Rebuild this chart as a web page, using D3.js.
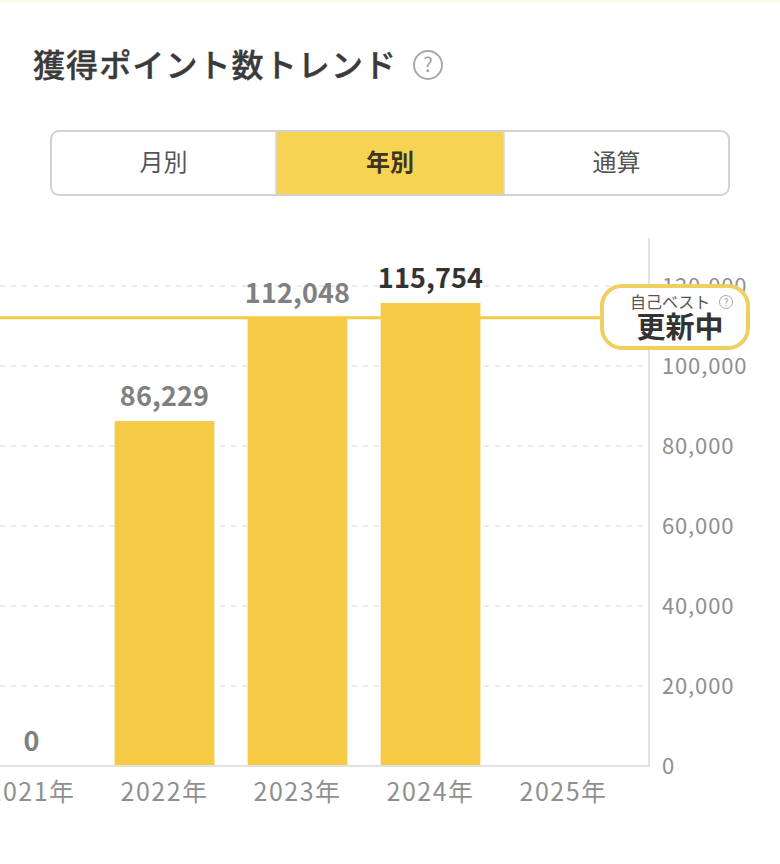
<!DOCTYPE html>
<html lang="ja">
<head>
<meta charset="utf-8">
<script src="https://cdn.jsdelivr.net/npm/d3@7"></script>
<style>
html, body { margin: 0; padding: 0; background: #fff; }
svg { display: block; }
text { font-family: "Noto Sans CJK JP", "Noto Sans", sans-serif; }
</style>
</head>
<body>
<div id="chart"></div>
<script>
// chart data
var years = ['2021年', '2022年', '2023年', '2024年', '2025年'];
var points = [0, 86229, 112048, 115754, null];
var bestYear = '2024年';
var personalBest = 112048;
var yTicks = [0, 20000, 40000, 60000, 80000, 100000, 120000];
var tabs = ['月別', '年別', '通算'];
var activeTab = '年別';
var tabEdges = [51, 276, 504, 729];

var width = 780, height = 864;
var yellow = '#f5cb45';

var svg = d3.select('#chart').append('svg')
    .attr('width', width)
    .attr('height', height);

// faint strip along the top edge
svg.append('rect').attr('width', width).attr('height', 2).attr('fill', '#fbf6e6');

// title
svg.append('text')
    .attr('x', 33).attr('y', 77)
    .attr('font-size', 32).attr('font-weight', 500)
    .attr('letter-spacing', 1.1)
    .attr('stroke', '#3a3a3a').attr('stroke-width', 0.4)
    .attr('fill', '#3a3a3a')
    .text('獲得ポイント数トレンド');
helpIcon(428, 65, 14, 2, 20);

// tab switch
var tabTop = 131, tabBottom = 195;
svg.append('clipPath').attr('id', 'tabClip').append('rect')
    .attr('x', tabEdges[0]).attr('y', tabTop)
    .attr('width', tabEdges[3] - tabEdges[0]).attr('height', tabBottom - tabTop)
    .attr('rx', 8);
var tabG = svg.append('g');
tabG.append('g').attr('clip-path', 'url(#tabClip)')
    .selectAll('rect').data(tabs).enter().append('rect')
    .attr('x', function(d, i) { return tabEdges[i]; })
    .attr('y', tabTop)
    .attr('width', function(d, i) { return tabEdges[i + 1] - tabEdges[i]; })
    .attr('height', tabBottom - tabTop)
    .attr('fill', function(d) { return d === activeTab ? '#f7d354' : '#fff'; });
tabG.selectAll('line').data(tabEdges.slice(1, 3)).enter().append('line')
    .attr('x1', function(d) { return d; }).attr('x2', function(d) { return d; })
    .attr('y1', tabTop).attr('y2', tabBottom)
    .attr('stroke', '#d8d8d8').attr('stroke-width', 1.5);
tabG.append('rect')
    .attr('x', tabEdges[0]).attr('y', tabTop)
    .attr('width', tabEdges[3] - tabEdges[0]).attr('height', tabBottom - tabTop)
    .attr('rx', 8)
    .attr('fill', 'none').attr('stroke', '#d2d2d2').attr('stroke-width', 2);
tabG.selectAll('text').data(tabs).enter().append('text')
    .attr('x', function(d, i) { return (tabEdges[i] + tabEdges[i + 1]) / 2; })
    .attr('y', 171)
    .attr('text-anchor', 'middle')
    .attr('font-size', 24)
    .attr('font-weight', function(d) { return d === activeTab ? 700 : 400; })
    .attr('fill', function(d) { return d === activeTab ? '#3d3520' : '#555'; })
    .text(function(d) { return d; });

// scales
var x = d3.scaleBand()
    .domain(years)
    .range([-35, 630])
    .paddingInner(0.25)
    .paddingOuter(0.125);

var y = d3.scaleLinear()
    .domain([0, 120000])
    .range([766, 286]);

var axisX = 649;

// grid
svg.append('g')
    .selectAll('line')
    .data(yTicks.filter(function(d) { return d > 0; }))
    .enter().append('line')
    .attr('x1', 0).attr('x2', axisX)
    .attr('y1', function(d) { return y(d); })
    .attr('y2', function(d) { return y(d); })
    .attr('stroke', '#e4e4e4')
    .attr('stroke-width', 1.5)
    .attr('stroke-dasharray', '5,6');

// y axis
svg.append('line')
    .attr('x1', axisX).attr('x2', axisX)
    .attr('y1', 238).attr('y2', 767)
    .attr('stroke', '#e2e2e2').attr('stroke-width', 2);

var yAxis = svg.append('g')
    .attr('class', 'y axis')
    .attr('transform', 'translate(' + (axisX + 13) + ',0)')
    .call(d3.axisRight(y).tickValues(yTicks).tickSize(0).tickPadding(0).tickFormat(d3.format(',')));
yAxis.select('.domain').remove();
yAxis.selectAll('text')
    .attr('font-size', 22)
    .attr('letter-spacing', 0.85)
    .attr('fill', '#8f8f8f')
    .style('font-family', '"Noto Sans CJK JP", sans-serif');

// bars
svg.append('g')
    .selectAll('rect')
    .data(years.filter(function(d, i) { return points[i]; }))
    .enter().append('rect')
    .attr('x', function(d) { return x(d); })
    .attr('width', x.bandwidth())
    .attr('y', function(d) { return y(points[years.indexOf(d)]); })
    .attr('height', function(d) { return y(0) - y(points[years.indexOf(d)]); })
    .attr('fill', yellow);

// x axis
svg.append('line')
    .attr('x1', 0).attr('x2', axisX)
    .attr('y1', y(0)).attr('y2', y(0))
    .attr('stroke', '#e2e2e2').attr('stroke-width', 2);

var xAxis = svg.append('g')
    .attr('class', 'x axis')
    .attr('transform', 'translate(0,' + y(0) + ')')
    .call(d3.axisBottom(x).tickSize(0).tickPadding(17));
xAxis.select('.domain').remove();
xAxis.selectAll('text')
    .attr('font-size', 25)
    .attr('letter-spacing', 1.5)
    .attr('fill', '#8f8f8f')
    .style('font-family', '"Noto Sans CJK JP", sans-serif');

// personal best line
svg.append('line')
    .attr('x1', 0).attr('x2', 610)
    .attr('y1', y(personalBest)).attr('y2', y(personalBest))
    .attr('stroke', yellow).attr('stroke-width', 3);

// value labels
svg.append('g')
    .selectAll('text')
    .data(years.filter(function(d, i) { return points[i] !== null; }))
    .enter().append('text')
    .attr('x', function(d) { return x(d) + x.bandwidth() / 2; })
    .attr('y', function(d) { return y(points[years.indexOf(d)]) - 15; })
    .attr('text-anchor', 'middle')
    .attr('font-size', 27)
    .attr('font-weight', 700)
    .attr('letter-spacing', 0.15)
    .attr('fill', function(d) { return d === bestYear ? '#333' : '#808080'; })
    .text(function(d) { return d3.format(',')(points[years.indexOf(d)]); });

// badge
var badge = svg.append('g');
badge.append('rect')
    .attr('x', 602).attr('y', 286)
    .attr('width', 146).attr('height', 62)
    .attr('rx', 20)
    .attr('fill', '#fff')
    .attr('stroke', '#efcf62')
    .attr('stroke-width', 4);
badge.append('text')
    .attr('x', 630).attr('y', 308)
    .attr('font-size', 16)
    .attr('fill', '#555')
    .text('自己ベスト');
badge.append('text')
    .attr('x', 680).attr('y', 338)
    .attr('text-anchor', 'middle')
    .attr('font-size', 29)
    .attr('font-weight', 700)
    .attr('fill', '#333')
    .text('更新中');
helpIcon(726, 302, 6.5, 1, 10);

function helpIcon(cx, cy, r, sw, fs) {
    var g = svg.append('g');
    g.append('circle')
        .attr('cx', cx).attr('cy', cy).attr('r', r)
        .attr('fill', 'none').attr('stroke', '#a8a8a8').attr('stroke-width', sw);
    g.append('text')
        .attr('x', cx).attr('y', cy + fs * 0.36)
        .attr('text-anchor', 'middle')
        .attr('font-size', fs)
        .attr('fill', '#a0a0a0')
        .text('?');
}
</script>
</body>
</html>
